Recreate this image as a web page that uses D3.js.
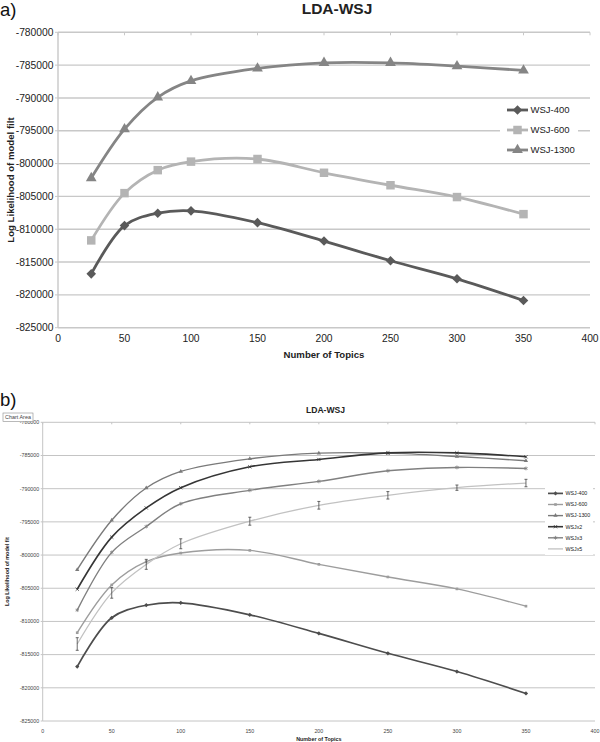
<!DOCTYPE html>
<html>
<head>
<meta charset="utf-8">
<script src="https://cdn.jsdelivr.net/npm/d3@7"></script>
<style>
  body { margin: 0; background: #fff; }
  svg { display: block; }
</style>
</head>
<body>
<svg id="chart" width="600" height="742"></svg>
<script>
// x values (number of topics)
var topics = [25, 50, 75, 100, 150, 200, 250, 300, 350];

// log likelihood
var wsj400  = [-816800, -809450, -807560, -807200, -809000, -811800, -814800, -817550, -820850];
var wsj600  = [-811700, -804500, -801000, -799700, -799300, -801400, -803300, -805100, -807700];
var wsj1300 = [-802200, -794750, -789900, -787400, -785500, -784650, -784650, -785150, -785800];
var wsjx2   = [-805150, -797300, -792900, -789850, -786700, -785600, -784600, -784600, -785200];
var wsjx3   = [-808300, -799600, -795700, -792270, -790250, -788900, -787300, -786800, -786950];
var wsjx5   = [-813400, -805700, -801400, -798300, -794900, -792500, -791000, -789850, -789150];
var wsjx5Err = [950, 800, 750, 750, 600, 580, 560, 400, 560];

var xTicks = [0, 50, 100, 150, 200, 250, 300, 350, 400];
var yTicks = [-780000, -785000, -790000, -795000, -800000, -805000, -810000, -815000, -820000, -825000];

var svg = d3.select("#chart");
var FONT = "Liberation Sans, Arial, sans-serif";

function markerPath(type, size) {
    var t = {
        diamond: d3.symbolSquare,
        square: d3.symbolSquare,
        triangle: d3.symbolTriangle,
        times: d3.symbolTimes || d3.symbolCross,
        asterisk: d3.symbolAsterisk || d3.symbolCross
    }[type];
    return d3.symbol().type(t).size(size)();
}

function drawPanel(p) {
    var g = svg.append("g");

    var x = d3.scaleLinear().domain([0, 400]).range([p.left, p.right]);
    var y = d3.scaleLinear().domain([-825000, -780000]).range([p.bottom, p.top]);

    // gridlines
    g.selectAll(".grid")
        .data(yTicks)
        .enter().append("line")
        .attr("x1", p.left).attr("x2", p.right)
        .attr("y1", function (d) { return y(d); })
        .attr("y2", function (d) { return y(d); })
        .attr("stroke", p.gridColor)
        .attr("stroke-width", p.gridWidth);

    // left axis line
    g.append("line")
        .attr("x1", p.left).attr("x2", p.left)
        .attr("y1", p.top).attr("y2", p.bottom)
        .attr("stroke", p.gridColor).attr("stroke-width", p.gridWidth);

    // small tick marks on the top line
    g.selectAll(".ttick")
        .data(xTicks)
        .enter().append("line")
        .attr("x1", function (d) { return x(d); })
        .attr("x2", function (d) { return x(d); })
        .attr("y1", p.top).attr("y2", p.top + p.tickLen)
        .attr("stroke", p.gridColor).attr("stroke-width", 1);

    // y ticks outside the axis
    g.selectAll(".ytick")
        .data(yTicks)
        .enter().append("line")
        .attr("x1", p.left - p.tickLen).attr("x2", p.left)
        .attr("y1", function (d) { return y(d); })
        .attr("y2", function (d) { return y(d); })
        .attr("stroke", p.gridColor).attr("stroke-width", 1);

    // tick labels
    g.selectAll(".ylab")
        .data(yTicks)
        .enter().append("text")
        .attr("x", p.left - p.tickLen - 1.5)
        .attr("y", function (d) { return y(d); })
        .attr("dy", "0.35em")
        .attr("text-anchor", "end")
        .style("font", p.tickFont + "px " + FONT)
        .style("fill", p.tickColor)
        .text(function (d) { return d; });

    g.selectAll(".xlab")
        .data(xTicks)
        .enter().append("text")
        .attr("x", function (d) { return x(d); })
        .attr("y", p.xLabelY)
        .attr("text-anchor", "middle")
        .style("font", p.tickFont + "px " + FONT)
        .style("fill", p.tickColor)
        .text(function (d) { return d; });

    // axis titles
    g.append("text")
        .attr("x", (p.left + p.right) / 2)
        .attr("y", p.xTitleY)
        .attr("text-anchor", "middle")
        .style("font", "bold " + p.titleFont + "px " + FONT)
        .style("fill", "#222")
        .text("Number of Topics");

    g.append("text")
        .attr("transform", "translate(" + p.yTitleX + "," + ((p.top + p.bottom) / 2) + ") rotate(-90)")
        .attr("text-anchor", "middle")
        .style("font", "bold " + p.titleFont + "px " + FONT)
        .style("fill", "#222")
        .text(p.yTitle);

    // chart title and panel letter
    g.append("text")
        .attr("x", p.chartTitleX).attr("y", p.chartTitleY)
        .attr("text-anchor", "middle")
        .style("font", "bold " + p.chartTitleFont + "px " + FONT)
        .style("fill", "#222")
        .text("LDA-WSJ");

    g.append("text")
        .attr("x", 0).attr("y", p.letterY)
        .style("font", "18.5px " + FONT)
        .style("fill", "#111")
        .text(p.letter);

    var line = d3.line()
        .x(function (d) { return x(d.x); })
        .y(function (d) { return y(d.y); })
        .curve(d3.curveCatmullRom.alpha(0.5));

    p.series.forEach(function (s) {
        var pts = topics.map(function (t, i) { return { x: t, y: s.values[i], e: s.err ? s.err[i] : 0 }; });

        g.append("path")
            .datum(pts)
            .attr("d", line)
            .attr("fill", "none")
            .attr("stroke", s.color)
            .attr("stroke-width", s.width);

        if (s.err) {
            var eb = g.selectAll(null).data(pts).enter().append("g").attr("class", "err");
            eb.append("line")
                .attr("x1", function (d) { return x(d.x); })
                .attr("x2", function (d) { return x(d.x); })
                .attr("y1", function (d) { return y(d.y - d.e); })
                .attr("y2", function (d) { return y(d.y + d.e); });
            eb.append("line")
                .attr("x1", function (d) { return x(d.x) - 1.5; })
                .attr("x2", function (d) { return x(d.x) + 1.5; })
                .attr("y1", function (d) { return y(d.y - d.e); })
                .attr("y2", function (d) { return y(d.y - d.e); });
            eb.append("line")
                .attr("x1", function (d) { return x(d.x) - 1.5; })
                .attr("x2", function (d) { return x(d.x) + 1.5; })
                .attr("y1", function (d) { return y(d.y + d.e); })
                .attr("y2", function (d) { return y(d.y + d.e); });
            eb.selectAll("line").attr("stroke", "#444").attr("stroke-width", 0.8);
        }

        if (s.marker) {
            g.selectAll(null)
                .data(pts)
                .enter().append("path")
                .attr("d", markerPath(s.marker, s.markerSize))
                .attr("transform", function (d) {
                    return "translate(" + x(d.x) + "," + y(d.y) + ")" + (s.marker === "diamond" ? " rotate(45)" : "");
                })
                .attr("fill", s.stroked ? "none" : s.color)
                .attr("stroke", s.color)
                .attr("stroke-width", s.stroked ? 0.8 : 0);
        }
    });

    // legend
    var lg = p.legend;
    g.append("rect")
        .attr("x", lg.boxX).attr("y", lg.boxY)
        .attr("width", lg.boxW).attr("height", lg.boxH)
        .attr("fill", "#fff");

    var item = g.selectAll(".legend")
        .data(p.series)
        .enter().append("g")
        .attr("transform", function (d, i) { return "translate(" + lg.x + "," + (lg.y + i * lg.step) + ")"; });

    item.append("line")
        .attr("x1", 0).attr("x2", lg.lineLen)
        .attr("stroke", function (d) { return d.color; })
        .attr("stroke-width", function (d) { return d.width; });

    item.filter(function (d) { return d.marker; })
        .append("path")
        .attr("d", function (d) { return markerPath(d.marker, d.markerSize); })
        .attr("transform", function (d) {
            return "translate(" + (lg.lineLen / 2) + ",0)" + (d.marker === "diamond" ? " rotate(45)" : "");
        })
        .attr("fill", function (d) { return d.stroked ? "none" : d.color; })
        .attr("stroke", function (d) { return d.color; })
        .attr("stroke-width", function (d) { return d.stroked ? 0.8 : 0; });

    item.append("text")
        .attr("x", lg.lineLen + 2.5)
        .attr("dy", "0.35em")
        .style("font", lg.font + "px " + FONT)
        .style("fill", "#222")
        .text(function (d) { return d.name; });

    return g;
}

// ---- panel a ----
drawPanel({
    left: 58, right: 590, top: 32.3, bottom: 327.7,
    gridColor: "#c8c8c8", gridWidth: 1.4, tickLen: 3,
    tickFont: 10.3, tickColor: "#222", xLabelY: 342,
    titleFont: 9.6, xTitleY: 357.5, yTitleX: 14, yTitle: "Log Likelihood of model filt",
    chartTitleX: 337, chartTitleY: 14, chartTitleFont: 15.5,
    letter: "a)", letterY: 16,
    series: [
        { name: "WSJ-400", values: wsj400, color: "#5a5a5a", width: 2.8, marker: "diamond", markerSize: 46 },
        { name: "WSJ-600", values: wsj600, color: "#b4b4b4", width: 2.8, marker: "square", markerSize: 72 },
        { name: "WSJ-1300", values: wsj1300, color: "#858585", width: 2.8, marker: "triangle", markerSize: 50 }
    ],
    legend: { x: 507, y: 110, step: 20, lineLen: 21, font: 9.5, boxX: 500, boxY: 100, boxW: 78, boxH: 60 }
});

// ---- panel b ----
var b = drawPanel({
    left: 42.7, right: 595, top: 422.3, bottom: 721,
    gridColor: "#c4c4c4", gridWidth: 1, tickLen: 2,
    tickFont: 5.3, tickColor: "#444", xLabelY: 732.5,
    titleFont: 5.4, xTitleY: 741, yTitleX: 8.5, yTitle: "Log Likelihood of model fit",
    chartTitleX: 325.5, chartTitleY: 412.5, chartTitleFont: 8.6,
    letter: "b)", letterY: 406,
    series: [
        { name: "WSJ-400", values: wsj400, color: "#4d4d4d", width: 1.7, marker: "diamond", markerSize: 9 },
        { name: "WSJ-600", values: wsj600, color: "#9d9d9d", width: 1.4, marker: "square", markerSize: 7 },
        { name: "WSJ-1300", values: wsj1300, color: "#7a7a7a", width: 1.4, marker: "triangle", markerSize: 8 },
        { name: "WSJx2", values: wsjx2, color: "#353535", width: 1.6, marker: "times", markerSize: 8, stroked: true },
        { name: "WSJx3", values: wsjx3, color: "#808080", width: 1.4, marker: "asterisk", markerSize: 10, stroked: true },
        { name: "WSJx5", values: wsjx5, err: wsjx5Err, color: "#c2c2c2", width: 1.3 }
    ],
    legend: { x: 548, y: 493.4, step: 11.1, lineLen: 15, font: 5.3, boxX: 545, boxY: 487, boxW: 48, boxH: 68 }
});

// "Chart Area" tooltip box left over in the screenshot
b.append("rect")
    .attr("x", 3).attr("y", 413).attr("width", 30).attr("height", 8.5)
    .attr("fill", "#fff").attr("stroke", "#8a8a8a").attr("stroke-width", 0.6);
b.append("text")
    .attr("x", 18).attr("y", 419.3)
    .attr("text-anchor", "middle")
    .style("font", "5.4px " + FONT)
    .style("fill", "#444")
    .text("Chart Area");
</script>
</body>
</html>
